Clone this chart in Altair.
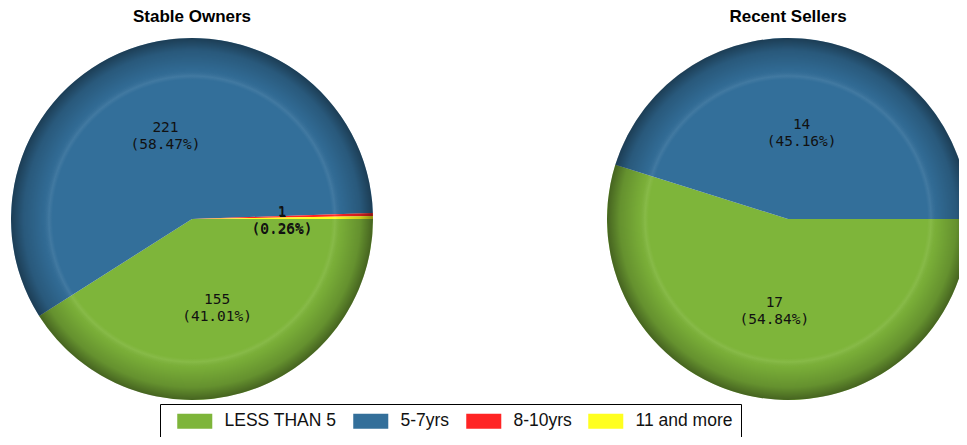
import math
import altair as alt
import pandas as pd

charts = ["Stable Owners", "Recent Sellers"]
categories = ["LESS THAN 5", "5-7yrs", "8-10yrs", "11 and more"]
stable_values = [155, 221, 1, 1]
recent_values = [17, 14, 0, 0]
colors = ["#7EB53A", "#336F9A", "#FF2424", "#FFFF1F"]

rows = []
for chart_name, vals in zip(charts, [stable_values, recent_values]):
    total = sum(vals)
    for i, (cat, v) in enumerate(zip(categories, vals)):
        if v > 0:
            rows.append({"chart": chart_name, "category": cat, "idx": i, "value": v,
                         "label": f"{v}\n({v / total * 100:.2f}%)"})
df = pd.DataFrame(rows)
groups = pd.DataFrame({"chart": charts})

R = 181
CY = 211
xscale = alt.Scale(type="point", domain=charts, range=[184, 780], padding=0)
theta_scale = alt.Scale(domain=[0, 1], range=[math.pi / 2, math.pi / 2 + 2 * math.pi])
xenc = alt.X("chart:N", scale=xscale, axis=None)

base = alt.Chart(df).transform_joinaggregate(
    total="sum(value)", groupby=["chart"]
).transform_window(
    cum="sum(value)", groupby=["chart"], sort=[alt.SortField("idx")], frame=[None, 0]
).transform_calculate(
    t0="(datum.cum - datum.value) / datum.total",
    t1="datum.cum / datum.total",
    tm="(datum.cum - datum.value / 2) / datum.total",
)

pad_tail = "\u00a0\u00a0\u00a0\u00a0"
arcs = base.mark_arc(radius=R, strokeWidth=0).encode(
    x=xenc,
    y=alt.value(CY),
    theta=alt.Theta("t0:Q", scale=theta_scale),
    theta2="t1:Q",
    color=alt.Color(
        "category:N",
        scale=alt.Scale(domain=categories, range=colors),
        title=" ",
        legend=alt.Legend(
            orient="none", legendX=152, legendY=396, direction="horizontal", columns=4,
            titleOrient="left", titleFontSize=1, titlePadding=8,
            symbolType="M-1,-1L3.67,-1L3.67,1L-1,1Z", symbolSize=225,
            symbolStrokeWidth=0, labelFont="Liberation Sans", labelFontSize=17.5,
            labelColor="#111", labelOffset=31, columnPadding=15, padding=8,
            strokeColor="black", labelLimit=400,
            labelExpr="datum.label == '11 and more' ? datum.label + '" + pad_tail + "' : datum.label",
        ),
    ),
)

gradient = {
    "gradient": "radial",
    "x1": 0.5, "y1": 0.5, "r1": 0,
    "x2": 0.5, "y2": 0.5, "r2": 0.5,
    "stops": [
        {"offset": 0, "color": "rgba(255,255,255,0)"},
        {"offset": 0.77, "color": "rgba(255,255,255,0)"},
        {"offset": 0.79, "color": "rgba(255,255,255,0.07)"},
        {"offset": 0.82, "color": "rgba(0,0,0,0.04)"},
        {"offset": 0.93, "color": "rgba(0,0,0,0.2)"},
        {"offset": 1, "color": "rgba(0,0,0,0.45)"},
    ],
}

shade = alt.Chart(groups).mark_arc(radius=R, fill=gradient, strokeWidth=0).encode(
    x=xenc,
    y=alt.value(CY),
    theta=alt.value(0),
    theta2=alt.value(2 * math.pi),
)

labels = base.mark_text(
    radius=90, font="DejaVu Sans Mono", fontSize=14.5, lineBreak="\n", lineHeight=17,
    color="#111", baseline="middle", align="center", dy=-5,
).encode(
    x=xenc,
    y=alt.value(CY),
    theta=alt.Theta("tm:Q", scale=theta_scale),
    text="label:N",
)

titles = alt.Chart(groups).mark_text(
    font="Liberation Sans", fontSize=17, fontWeight="bold", color="black", baseline="middle"
).encode(
    x=xenc,
    y=alt.value(9),
    text="chart:N",
)

chart = alt.layer(arcs, shade, labels, titles).properties(
    width=951, height=429, padding=0,
    autosize=alt.AutoSizeParams(type="none"),
).configure_view(strokeWidth=0)

chart.save("out.html", embed_options={"renderer": "svg", "actions": False})
